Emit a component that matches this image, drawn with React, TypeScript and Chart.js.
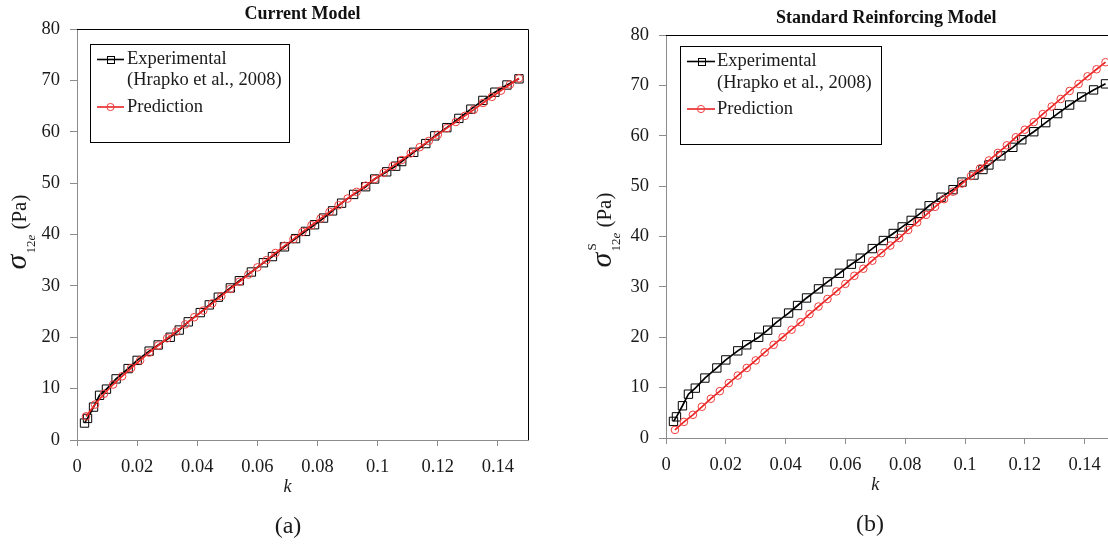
import React, { useEffect, useRef } from "react";
import { Chart, registerables } from "chart.js";

Chart.register(...registerables);

// ---------- data ----------
const kTickValues = [0, 0.02, 0.04, 0.06, 0.08, 0.1, 0.12, 0.14];
const sigmaTickValues = [0, 10, 20, 30, 40, 50, 60, 70, 80];

const expK = [0.0025, 0.0035, 0.0055, 0.0075, 0.0098, 0.013, 0.017, 0.02, 0.024, 0.027, 0.031, 0.034, 0.037, 0.041, 0.044, 0.047, 0.051, 0.054, 0.058, 0.062, 0.065, 0.069, 0.0727, 0.076, 0.079, 0.082, 0.085, 0.088, 0.092, 0.096, 0.099, 0.103, 0.106, 0.108, 0.112, 0.116, 0.119, 0.123, 0.127, 0.131, 0.135, 0.139, 0.143, 0.147];
const expSigma = [3.3, 4.2, 6.4, 8.7, 9.9, 11.9, 13.9, 15.5, 17.3, 18.5, 20.0, 21.4, 23.0, 24.8, 26.3, 27.8, 29.6, 31.0, 32.7, 34.5, 35.7, 37.6, 39.2, 40.6, 41.9, 43.2, 44.6, 46.1, 47.8, 49.3, 50.8, 52.2, 53.3, 54.2, 56.0, 57.7, 59.2, 60.8, 62.6, 64.4, 66.1, 67.7, 69.1, 70.3];

const predK = [0.003, 0.006, 0.009, 0.012, 0.015, 0.018, 0.021, 0.024, 0.027, 0.03, 0.033, 0.036, 0.039, 0.042, 0.045, 0.048, 0.051, 0.054, 0.057, 0.06, 0.063, 0.066, 0.069, 0.072, 0.075, 0.078, 0.081, 0.084, 0.087, 0.09, 0.093, 0.096, 0.099, 0.102, 0.105, 0.108, 0.111, 0.114, 0.117, 0.12, 0.123, 0.126, 0.129, 0.132, 0.135, 0.138, 0.141, 0.144, 0.147];
const predCurrentSigma = [4.6, 6.9, 9.0, 10.8, 12.4, 14.0, 15.5, 17.0, 18.4, 19.8, 21.1, 22.5, 23.9, 25.2, 26.6, 28.0, 29.4, 30.8, 32.2, 33.6, 35.0, 36.4, 37.8, 39.1, 40.5, 41.8, 43.1, 44.4, 45.7, 47.0, 48.3, 49.5, 50.8, 52.0, 53.3, 54.5, 55.8, 57.0, 58.2, 59.4, 60.7, 61.9, 63.1, 64.3, 65.6, 66.8, 68.0, 69.2, 70.4];
const predStandardSigma = [1.6, 3.2, 4.6, 6.2, 7.8, 9.3, 10.9, 12.4, 13.9, 15.4, 17.0, 18.5, 20.0, 21.5, 23.0, 24.6, 26.1, 27.6, 29.1, 30.6, 32.2, 33.6, 35.2, 36.7, 38.2, 39.7, 41.3, 42.8, 44.3, 45.9, 47.4, 48.9, 50.5, 52.0, 53.5, 55.1, 56.6, 58.1, 59.7, 61.2, 62.7, 64.3, 65.8, 67.3, 68.9, 70.3, 71.8, 73.2, 74.6];

const panelTitles = ["Current Model", "Standard Reinforcing Model"];
const panelCaptions = ["(a)", "(b)"];
const yTitleSuperscripts = ["", "S"];
const legendExperimental = ["Experimental", "(Hrapko et al., 2008)"];
const legendPrediction = "Prediction";
const xTitle = "k";

// ---------- styles ----------
const SERIF = '"Liberation Serif", "Times New Roman", serif';
const AXIS_GRAY = "#8c8c8c";
const TEXT = "#1a1a1a";
const BLACK = "#000000";
const RED_LINE = "#e82424";
const RED_MARK = "#f03c3c";

type PanelLayout = {
  canvasLeft: number;
  canvasWidth: number;
  padding: { left: number; top: number; right: number; bottom: number };
  yWidth: number;
  xHeight: number;
  titleY: number;
  titleDx: number;
  yTitleBaseX: number;
  yTitleCenterY: number;
  caption: { x: number; y: number };
  legend: { x: number; y: number; w: number; h: number; lx0: number; lx1: number; tx: number; rows: number[] };
};

const layouts: PanelLayout[] = [
  {
    canvasLeft: 0,
    canvasWidth: 554,
    padding: { left: 0, top: 29, right: 26, bottom: 45 },
    yWidth: 77,
    xHeight: 60,
    titleY: 14,
    titleDx: 0,
    yTitleBaseX: 26,
    yTitleCenterY: 232,
    caption: { x: 288, y: 527 },
    legend: { x: 90, y: 44, w: 199, h: 98, lx0: 97, lx1: 124, tx: 127, rows: [59.5, 80.5, 107] },
  },
  {
    canvasLeft: 554,
    canvasWidth: 580,
    padding: { left: 0, top: 35, right: 19.5, bottom: 47 },
    yWidth: 112,
    xHeight: 60,
    titleY: 18,
    titleDx: -4,
    yTitleBaseX: 57,
    yTitleCenterY: 230,
    caption: { x: 316, y: 525 },
    legend: { x: 126, y: 46, w: 201, h: 98, lx0: 133, lx1: 161, tx: 163, rows: [61.5, 83, 109] },
  },
];

function drawSquare(ctx: CanvasRenderingContext2D, x: number, y: number, s: number, color: string) {
  ctx.strokeStyle = color;
  ctx.lineWidth = 1;
  ctx.strokeRect(Math.round(x - s / 2) + 0.5, Math.round(y - s / 2) + 0.5, s, s);
}

function drawCircle(ctx: CanvasRenderingContext2D, x: number, y: number, r: number, color: string) {
  ctx.strokeStyle = color;
  ctx.lineWidth = 1;
  ctx.beginPath();
  ctx.arc(x, y, r, 0, Math.PI * 2);
  ctx.stroke();
}

function makeDecor(idx: number) {
  const L = layouts[idx];
  return {
    id: "decor" + idx,
    afterDraw(chart: any) {
      const ctx: CanvasRenderingContext2D = chart.ctx;
      const a = chart.chartArea;
      ctx.save();
      // top & right frame
      ctx.strokeStyle = BLACK;
      ctx.lineWidth = 1;
      ctx.beginPath();
      ctx.moveTo(a.left, Math.round(a.top) + 0.5);
      ctx.lineTo(Math.round(a.right) + 0.5, Math.round(a.top) + 0.5);
      ctx.lineTo(Math.round(a.right) + 0.5, a.bottom);
      ctx.stroke();

      // title
      ctx.fillStyle = "#111";
      ctx.font = "bold 18px " + SERIF;
      ctx.textAlign = "center";
      ctx.textBaseline = "middle";
      ctx.fillText(panelTitles[idx], (a.left + a.right) / 2 + L.titleDx, L.titleY);

      // legend
      const lg = L.legend;
      ctx.fillStyle = "#fff";
      ctx.fillRect(lg.x, lg.y, lg.w, lg.h);
      ctx.strokeStyle = BLACK;
      ctx.lineWidth = 1;
      ctx.strokeRect(lg.x + 0.5, lg.y + 0.5, lg.w, lg.h);
      const mid = (lg.lx0 + lg.lx1) / 2;
      ctx.lineWidth = 1.6;
      ctx.strokeStyle = BLACK;
      ctx.beginPath();
      ctx.moveTo(lg.lx0, lg.rows[0]);
      ctx.lineTo(lg.lx1, lg.rows[0]);
      ctx.stroke();
      drawSquare(ctx, mid, lg.rows[0], 7, BLACK);
      ctx.lineWidth = 1.6;
      ctx.strokeStyle = RED_LINE;
      ctx.beginPath();
      ctx.moveTo(lg.lx0, lg.rows[2]);
      ctx.lineTo(lg.lx1, lg.rows[2]);
      ctx.stroke();
      drawCircle(ctx, mid, lg.rows[2], 3.6, RED_MARK);
      ctx.fillStyle = TEXT;
      ctx.font = "18.5px " + SERIF;
      ctx.textAlign = "left";
      ctx.textBaseline = "middle";
      ctx.fillText(legendExperimental[0], lg.tx, lg.rows[0]);
      ctx.fillText(legendExperimental[1], lg.tx, lg.rows[1]);
      ctx.fillText(legendPrediction, lg.tx, lg.rows[2]);

      // x title
      const xs = chart.scales.x;
      ctx.font = "italic 18px " + SERIF;
      ctx.textAlign = "center";
      ctx.textBaseline = "middle";
      ctx.fillText(xTitle, xs.getPixelForValue(0.07), a.bottom + 47);

      // caption
      ctx.font = "24px " + SERIF;
      ctx.fillText(panelCaptions[idx], L.caption.x, L.caption.y);

      // y title (rotated)
      ctx.translate(L.yTitleBaseX, L.yTitleCenterY);
      ctx.rotate(-Math.PI / 2);
      ctx.textAlign = "left";
      ctx.textBaseline = "alphabetic";
      const fSigma = "italic 30px " + SERIF;
      const fSub = "13px " + SERIF;
      const fSubI = "italic 13px " + SERIF;
      const fSup = "13px " + SERIF;
      const fPa = "21px " + SERIF;
      ctx.font = fSigma;
      const wS = ctx.measureText("σ").width;
      ctx.font = fSub;
      const w12 = ctx.measureText("12").width;
      ctx.font = fSubI;
      const wE = ctx.measureText("e").width;
      ctx.font = fPa;
      const wPa = ctx.measureText(" (Pa)").width;
      const total = wS + 1 + w12 + wE + wPa;
      let x = -total / 2;
      ctx.fillStyle = TEXT;
      ctx.font = fSigma;
      ctx.fillText("σ", x, 0);
      x += wS + 1;
      if (yTitleSuperscripts[idx]) {
        ctx.font = fSup;
        ctx.fillText(yTitleSuperscripts[idx], x + 1, -15);
      }
      ctx.font = fSub;
      ctx.fillText("12", x, 9);
      x += w12;
      ctx.font = fSubI;
      ctx.fillText("e", x, 9);
      x += wE;
      ctx.font = fPa;
      ctx.fillText(" (Pa)", x, 0);
      ctx.restore();
    },
  };
}

function makeConfig(idx: number, predSigma: number[]): any {
  const L = layouts[idx];
  const tickFont = { family: SERIF, size: 18.5 };
  return {
    type: "scatter",
    data: {
      datasets: [
        {
          label: legendExperimental.join(" "),
          data: expK.map((k, i) => ({ x: k, y: expSigma[i] })),
          showLine: true,
          borderColor: BLACK,
          borderWidth: 1.7,
          pointStyle: "rect",
          pointRadius: 5.9,
          pointBorderWidth: 1,
          pointBorderColor: BLACK,
          pointBackgroundColor: "rgba(0,0,0,0)",
          tension: 0,
          order: 2,
        },
        {
          label: legendPrediction,
          data: predK.map((k, i) => ({ x: k, y: predSigma[i] })),
          showLine: true,
          borderColor: RED_LINE,
          borderWidth: 1.7,
          pointStyle: "circle",
          pointRadius: 3.8,
          pointBorderWidth: 1,
          pointBorderColor: RED_MARK,
          pointBackgroundColor: "rgba(0,0,0,0)",
          tension: 0,
          order: 1,
        },
      ],
    },
    options: {
      responsive: false,
      animation: false,
      events: [],
      layout: { padding: L.padding },
      plugins: { legend: { display: false }, title: { display: false }, tooltip: { enabled: false } },
      scales: {
        x: {
          type: "linear",
          min: 0,
          max: 0.15,
          afterBuildTicks: (s: any) => {
            s.ticks = kTickValues.map((v) => ({ value: v }));
          },
          afterFit: (s: any) => {
            s.height = L.xHeight;
          },
          ticks: { font: tickFont, color: TEXT, padding: 10, maxRotation: 0, autoSkip: false, callback: (v: any) => String(v) },
          grid: { drawOnChartArea: false, tickLength: 6, color: AXIS_GRAY },
          border: { color: AXIS_GRAY, width: 1 },
        },
        y: {
          type: "linear",
          min: sigmaTickValues[0],
          max: sigmaTickValues[sigmaTickValues.length - 1],
          afterBuildTicks: (s: any) => {
            s.ticks = sigmaTickValues.map((v) => ({ value: v }));
          },
          afterFit: (s: any) => {
            s.width = L.yWidth;
          },
          ticks: { font: tickFont, color: TEXT, padding: 10, callback: (v: any) => String(v) },
          grid: { drawOnChartArea: false, tickLength: 7, color: AXIS_GRAY },
          border: { color: AXIS_GRAY, width: 1 },
        },
      },
    },
    plugins: [makeDecor(idx)],
  };
}

export default function App() {
  const refA = useRef<HTMLCanvasElement | null>(null);
  const refB = useRef<HTMLCanvasElement | null>(null);

  useEffect(() => {
    const charts: Chart[] = [];
    if (refA.current) charts.push(new Chart(refA.current, makeConfig(0, predCurrentSigma)));
    if (refB.current) charts.push(new Chart(refB.current, makeConfig(1, predStandardSigma)));
    return () => {
      charts.forEach((c) => c.destroy());
    };
  }, []);

  return (
    <div style={{ position: "absolute", left: 0, top: 0, width: 1108, height: 545, overflow: "hidden", background: "#fff" }}>
      <canvas
        ref={refA}
        width={layouts[0].canvasWidth}
        height={545}
        style={{ position: "absolute", left: layouts[0].canvasLeft, top: 0, width: layouts[0].canvasWidth, height: 545 }}
      />
      <canvas
        ref={refB}
        width={layouts[1].canvasWidth}
        height={545}
        style={{ position: "absolute", left: layouts[1].canvasLeft, top: 0, width: layouts[1].canvasWidth, height: 545 }}
      />
    </div>
  );
}
